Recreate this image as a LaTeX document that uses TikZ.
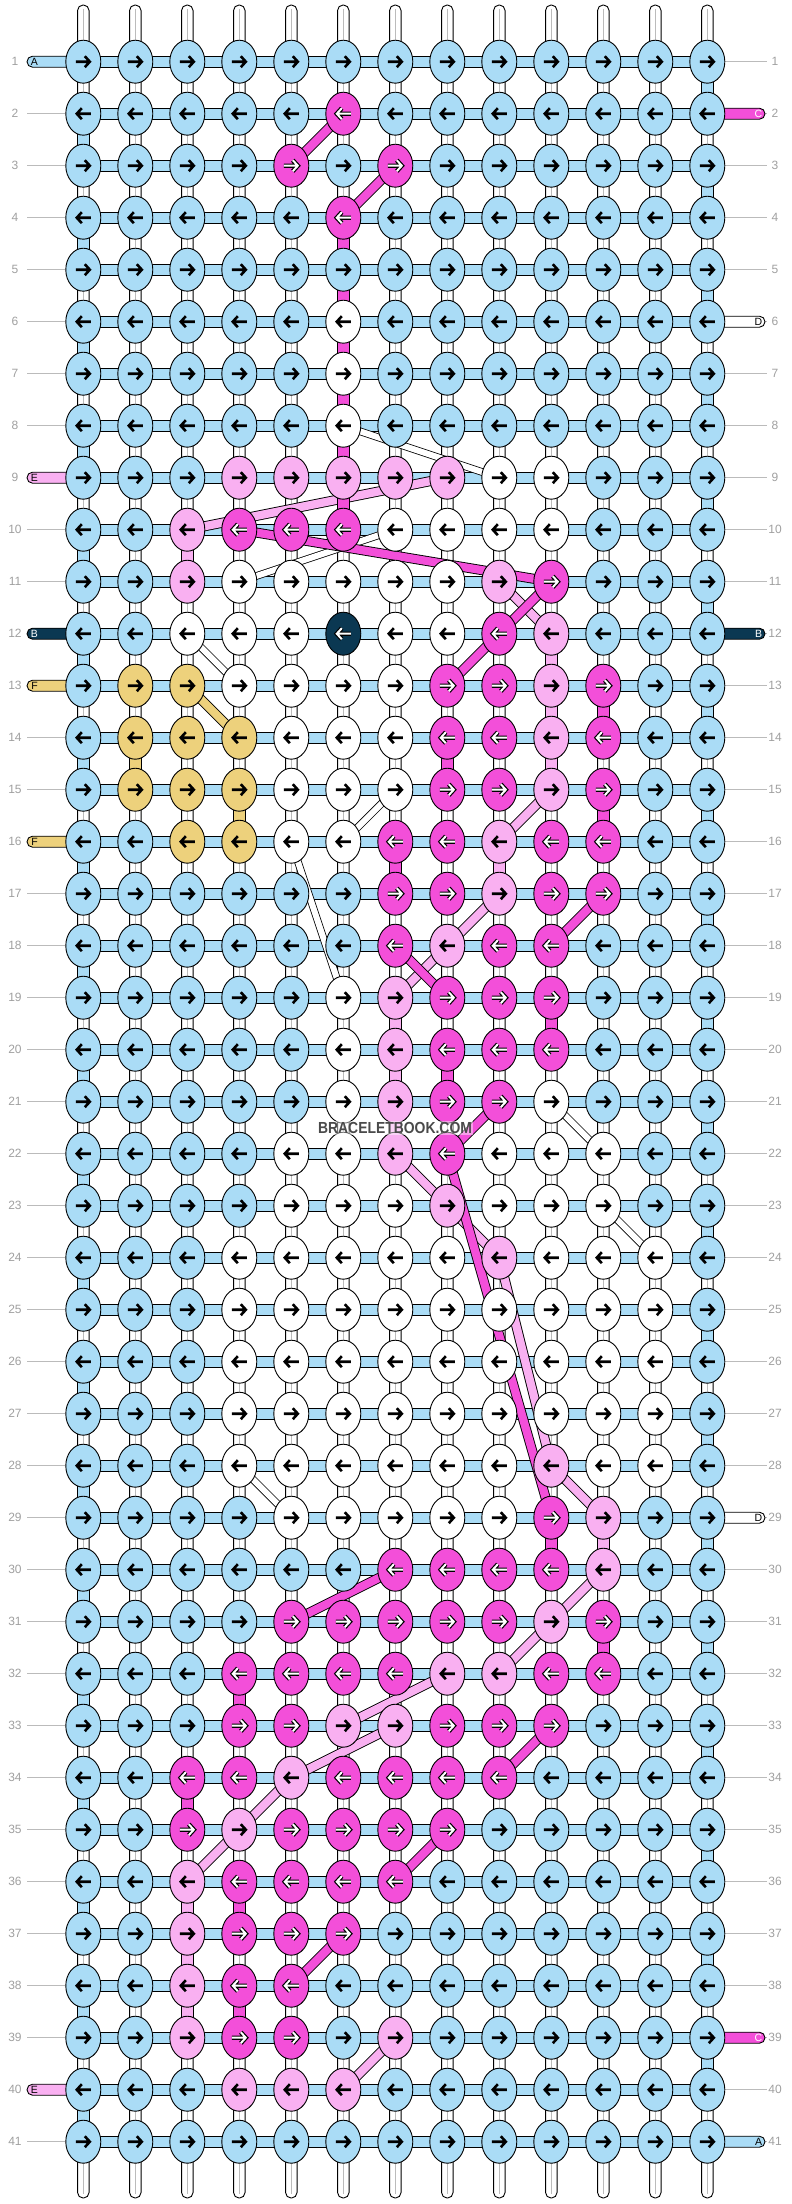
\documentclass[tikz,border=0pt]{standalone}
\usepackage{fontspec}
\setmainfont{Liberation Sans}
\usetikzlibrary{shapes.geometric}
\definecolor{cL}{HTML}{AADCF6}
\definecolor{cM}{HTML}{F34FD9}
\definecolor{cP}{HTML}{F9B0F1}
\definecolor{cW}{HTML}{FFFFFF}
\definecolor{cY}{HTML}{EDD17C}
\definecolor{cN}{HTML}{0B3852}
\definecolor{numgray}{HTML}{A0A0A0}
\definecolor{linegray}{HTML}{BBBBBB}
\definecolor{wmgray}{HTML}{4A4A4A}
\pgfdeclarelayer{bg}
\pgfdeclarelayer{conn}
\pgfsetlayers{bg,conn,main}
\tikzset{
  knot/.style={ellipse, draw=black, line width=0.9pt, minimum width=35pt, minimum height=43pt, inner sep=0pt},
  arwpath/.style={line cap=butt, line join=miter},
  arwBR/.pic={\draw[arwpath, black, line width=2.6pt] (-7.5,0)--(6.5,0) (1.5,-5.5)--(6.5,0)--(1.5,5.5);},
  arwBL/.pic={\draw[arwpath, black, line width=2.6pt] (7.5,0)--(-6.5,0) (-1.5,-5.5)--(-6.5,0)--(-1.5,5.5);},
  arwOR/.pic={\draw[arwpath, black, line width=4.4pt] (-7.5,0)--(6.5,0) (1.5,-5.5)--(6.5,0)--(1.5,5.5);
              \draw[arwpath, white, line width=2.0pt] (-7.5,0)--(6.5,0) (1.5,-5.5)--(6.5,0)--(1.5,5.5);},
  arwOL/.pic={\draw[arwpath, black, line width=4.4pt] (7.5,0)--(-6.5,0) (-1.5,-5.5)--(-6.5,0)--(-1.5,5.5);
              \draw[arwpath, white, line width=2.0pt] (7.5,0)--(-6.5,0) (-1.5,-5.5)--(-6.5,0)--(-1.5,5.5);},
  seg/.style={draw=black, line width=0.9pt},
  numlab/.style={text=numgray, font=\fontsize{12}{14}\selectfont, inner sep=0pt},
  tablab/.style={font=\fontsize{10.5}{12}\selectfont, inner sep=0pt},
  tubeline/.style={draw=linegray, line width=1pt},
  rowline/.style={draw=linegray, line width=1pt}
}
\newcommand\vseg[3]{\draw[seg, fill=#1] ([xshift=-5.75pt]#2.center) rectangle ([xshift=5.75pt]#3.center);}
\newcommand\cband[3]{\draw[black, line width=10pt] (#2.center) -- (#3.center); \draw[#1, line width=8.2pt] (#2.center) -- (#3.center);}
\newcommand\wband[2]{\draw[black, line width=7.6pt] (#1.center) -- (#2.center); \draw[white, line width=6pt] (#1.center) -- (#2.center);}
\begin{document}
\begin{tikzpicture}[x=1pt,y=-1pt]
\useasboundingbox (0,0) rectangle (792,2204);
% knots
\foreach \row [count=\r] in {
 {L,L,L,L,L,L,L,L,L,L,L,L,L},
 {L,L,L,L,L,M,L,L,L,L,L,L,L},
 {L,L,L,L,M,L,M,L,L,L,L,L,L},
 {L,L,L,L,L,M,L,L,L,L,L,L,L},
 {L,L,L,L,L,L,L,L,L,L,L,L,L},
 {L,L,L,L,L,W,L,L,L,L,L,L,L},
 {L,L,L,L,L,W,L,L,L,L,L,L,L},
 {L,L,L,L,L,W,L,L,L,L,L,L,L},
 {L,L,L,P,P,P,P,P,W,W,L,L,L},
 {L,L,P,M,M,M,W,W,W,W,L,L,L},
 {L,L,P,W,W,W,W,W,P,M,L,L,L},
 {L,L,W,W,W,N,W,W,M,P,L,L,L},
 {L,Y,Y,W,W,W,W,M,M,P,M,L,L},
 {L,Y,Y,Y,W,W,W,M,M,P,M,L,L},
 {L,Y,Y,Y,W,W,W,M,M,P,M,L,L},
 {L,L,Y,Y,W,W,M,M,P,M,M,L,L},
 {L,L,L,L,L,L,M,M,P,M,M,L,L},
 {L,L,L,L,L,L,M,P,M,M,L,L,L},
 {L,L,L,L,L,W,P,M,M,M,L,L,L},
 {L,L,L,L,L,W,P,M,M,M,L,L,L},
 {L,L,L,L,L,W,P,M,M,W,L,L,L},
 {L,L,L,L,W,W,P,M,W,W,W,L,L},
 {L,L,L,L,W,W,W,P,W,W,W,L,L},
 {L,L,L,W,W,W,W,W,P,W,W,W,L},
 {L,L,L,W,W,W,W,W,W,W,W,W,L},
 {L,L,L,W,W,W,W,W,W,W,W,W,L},
 {L,L,L,W,W,W,W,W,W,W,W,W,L},
 {L,L,L,W,W,W,W,W,W,P,W,W,L},
 {L,L,L,L,W,W,W,W,W,M,P,L,L},
 {L,L,L,L,L,L,M,M,M,M,P,L,L},
 {L,L,L,L,M,M,M,M,M,P,M,L,L},
 {L,L,L,M,M,M,M,P,P,M,M,L,L},
 {L,L,L,M,M,P,P,M,M,M,L,L,L},
 {L,L,M,M,P,M,M,M,M,L,L,L,L},
 {L,L,M,P,M,M,M,M,L,L,L,L,L},
 {L,L,P,M,M,M,M,L,L,L,L,L,L},
 {L,L,P,M,M,M,L,L,L,L,L,L,L},
 {L,L,P,M,M,L,L,L,L,L,L,L,L},
 {L,L,P,M,M,L,P,L,L,L,L,L,L},
 {L,L,L,P,P,P,L,L,L,L,L,L,L},
 {L,L,L,L,L,L,L,L,L,L,L,L,L}}{
  \pgfmathsetmacro\yy{61.7+52*(\r-1)}
  \pgfmathtruncatemacro\rpar{mod(\r,2)}
  \ifnum\rpar=1 \def\dir{R}\else\def\dir{L}\fi
  \foreach \k [count=\cc] in \row {
    \def\ak{B}\if M\k\def\ak{O}\fi\if N\k\def\ak{O}\fi
    \node[knot, fill=c\k] (k\r-\cc) at ({83.3+52*(\cc-1)},\yy) {};
    \pic at (k\r-\cc) {arw\ak\dir};
  }
  \node[numlab] (ln\r) at (15,\yy) {\r};
  \node[numlab] (rn\r) at (775,\yy) {\r};
}
% background: tubes, bars, tabs
\begin{pgfonlayer}{bg}
  \fill[white] (0,0) rectangle (792,2204);
  \foreach \cc in {1,...,13} {
    \pgfmathsetmacro\xx{83.3+52*(\cc-1)}
    \draw[seg, fill=white, rounded corners=5.5pt] (\xx-5.75,5) rectangle (\xx+5.75,2198);
    \draw[tubeline] (\xx,9) -- (\xx,2194);
  }
  \foreach \r in {1,...,41} {
    \draw[seg, fill=cL] ([yshift=5.5pt]k\r-1.center) rectangle ([yshift=-5.5pt]k\r-13.center);
    \draw[rowline] (27,{61.7+52*(\r-1)}) -- (k\r-1.west);
    \draw[rowline] (k\r-13.east) -- (767,{61.7+52*(\r-1)});
  }
  \foreach \r/\col/\lab/\tc in {1/cL/A/black, 9/cP/E/black, 12/cN/B/white, 13/cY/F/black, 16/cY/F/black, 40/cP/E/black} {
    \pgfmathsetmacro\yy{61.7+52*(\r-1)}
    \draw[seg, fill=\col, rounded corners=5.5pt] (27,\yy-5.5) rectangle (80,\yy+5.5);
    \node[tablab, text=\tc] (tl\r) at (34.5,\yy) {\lab};
  }
  \foreach \r/\col/\lab/\tc in {2/cM/C/white, 6/cW/D/black, 12/cN/B/white, 29/cW/D/black, 39/cM/C/white, 41/cL/A/black} {
    \pgfmathsetmacro\yy{61.7+52*(\r-1)}
    \draw[seg, fill=\col, rounded corners=5.5pt] (712,\yy-5.5) rectangle (765,\yy+5.5);
    \node[tablab, text=\tc] (tr\r) at (758.5,\yy) {\lab};
  }
\end{pgfonlayer}
% thread connectors
\begin{pgfonlayer}{conn}
  % white thread D
  \wband{k8-6}{k9-9}
  \wband{k10-7}{k11-4}
  \wband{k12-3}{k13-4}
  \wband{k15-7}{k16-6}
  \wband{k16-5}{k19-6}
  \wband{k21-10}{k22-11}
  \wband{k23-11}{k24-12}
  \wband{k28-4}{k29-5}
  % light blue turns
  \foreach \r in {1,3,...,39} {\pgfmathtruncatemacro\rr{\r+1}\vseg{cL}{k\r-13}{k\rr-13}}
  \foreach \r in {2,4,...,40} {\pgfmathtruncatemacro\rr{\r+1}\vseg{cL}{k\r-1}{k\rr-1}}
  % yellow thread F
  \cband{cY}{k13-3}{k14-4}
  \vseg{cY}{k14-2}{k15-2}
  \vseg{cY}{k15-4}{k16-4}
  % pink thread E
  \vseg{cP}{k10-3}{k11-3}
  \vseg{cP}{k12-10}{k15-10}
  \vseg{cP}{k16-9}{k17-9}
  \vseg{cP}{k19-7}{k22-7}
  \vseg{cP}{k29-11}{k30-11}
  \vseg{cP}{k36-3}{k39-3}
  \cband{cP}{k9-8}{k10-3}
  \cband{cP}{k11-9}{k12-10}
  \cband{cP}{k15-10}{k16-9}
  \cband{cP}{k17-9}{k18-8}
  \cband{cP}{k18-8}{k19-7}
  \cband{cP}{k22-7}{k23-8}
  \cband{cP}{k23-8}{k24-9}
  \cband{cP}{k24-9}{k28-10}
  \cband{cP}{k28-10}{k29-11}
  \cband{cP}{k30-11}{k31-10}
  \cband{cP}{k31-10}{k32-9}
  \cband{cP}{k32-8}{k33-6}
  \cband{cP}{k33-7}{k34-5}
  \cband{cP}{k34-5}{k35-4}
  \cband{cP}{k35-4}{k36-3}
  \cband{cP}{k39-7}{k40-6}
  % magenta thread C
  \vseg{cM}{k4-6}{k10-6}
  \vseg{cM}{k13-11}{k14-11}
  \vseg{cM}{k14-8}{k15-8}
  \vseg{cM}{k15-11}{k16-11}
  \vseg{cM}{k16-7}{k17-7}
  \vseg{cM}{k19-10}{k20-10}
  \vseg{cM}{k20-8}{k21-8}
  \vseg{cM}{k29-10}{k30-10}
  \vseg{cM}{k31-11}{k32-11}
  \vseg{cM}{k32-4}{k33-4}
  \vseg{cM}{k34-3}{k35-3}
  \vseg{cM}{k36-4}{k37-4}
  \vseg{cM}{k38-4}{k39-4}
  \cband{cM}{k2-6}{k3-5}
  \cband{cM}{k3-7}{k4-6}
  \cband{cM}{k10-4}{k11-10}
  \cband{cM}{k11-10}{k12-9}
  \cband{cM}{k12-9}{k13-8}
  \cband{cM}{k17-11}{k18-10}
  \cband{cM}{k18-7}{k19-8}
  \cband{cM}{k21-9}{k22-8}
  \cband{cM}{k22-8}{k29-10}
  \cband{cM}{k30-7}{k31-5}
  \cband{cM}{k33-10}{k34-9}
  \cband{cM}{k35-8}{k36-7}
  \cband{cM}{k37-6}{k38-5}
\end{pgfonlayer}
% watermark
\node[font=\bfseries\fontsize{16}{18}\selectfont, text=wmgray, xscale=0.87, fill=white, fill opacity=0.45, text opacity=1, inner sep=1pt] (wm) at (395,1128) {BRACELETBOOK.COM};
\end{tikzpicture}
\end{document}
